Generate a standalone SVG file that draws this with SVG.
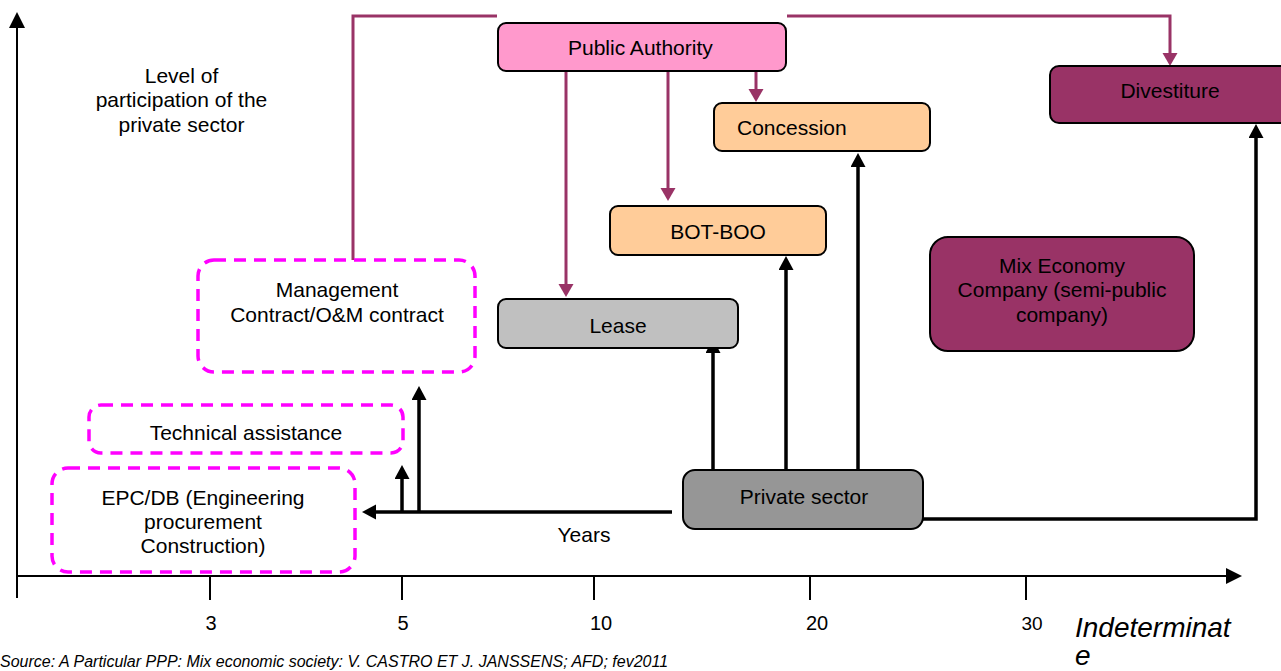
<svg xmlns="http://www.w3.org/2000/svg" width="1281" height="671" viewBox="0 0 1281 671">
  <style>
    text { font-family: "Liberation Sans", Arial, sans-serif; font-size: 21px; fill: #000; }
    .mid { text-anchor: middle; }
    .box { stroke: #000; stroke-width: 2; }
    .dash { fill: none; stroke: #FF00FF; stroke-width: 3.5; stroke-dasharray: 12 8; }
    .blk { fill: none; stroke: #000; stroke-width: 3.5; }
    .mag { fill: none; stroke: #993366; stroke-width: 3; }
    .axis { fill: none; stroke: #000; stroke-width: 2; }
    .tick { font-size: 20px; }
    .ital { font-style: italic; }
  </style>
  <defs>
    <marker id="ah-black" markerUnits="userSpaceOnUse" markerWidth="16" markerHeight="16" refX="2" refY="7.5" orient="auto">
      <path d="M0,0 L14,7.5 L0,15 Z" fill="#000"/>
    </marker>
    <marker id="ah-axis" markerUnits="userSpaceOnUse" markerWidth="18" markerHeight="18" refX="2" refY="8" orient="auto">
      <path d="M0,0 L16,8 L0,16 Z" fill="#000"/>
    </marker>
    <marker id="ah-mag" markerUnits="userSpaceOnUse" markerWidth="16" markerHeight="16" refX="2" refY="7.5" orient="auto">
      <path d="M0,0 L13,7.5 L0,15 Z" fill="#993366"/>
    </marker>
  </defs>

  <rect width="1281" height="671" fill="#fff"/>

  <!-- axes -->
  <g id="axes">
    <path class="axis" d="M17,598 V26" marker-end="url(#ah-axis)"/>
    <path class="axis" d="M17,576 H1228" marker-end="url(#ah-axis)"/>
    <path class="axis" d="M210,576 V600 M402,576 V600 M594,576 V600 M810,576 V600 M1026,576 V600"/>
    <text class="tick mid" x="211" y="630">3</text>
    <text class="tick mid" x="403" y="630">5</text>
    <text class="tick mid" x="601" y="630">10</text>
    <text class="tick mid" x="817" y="630">20</text>
    <text class="tick mid" x="1032" y="630" style="font-size:19px">30</text>
    <text class="ital" x="1075" y="637" style="font-size:28px">Indeterminat</text>
    <text class="ital" x="1075" y="665" style="font-size:28px">e</text>
    <text class="mid" x="181.5" y="83">Level of</text>
    <text class="mid" x="181.5" y="107">participation of the</text>
    <text class="mid" x="181.5" y="132">private sector</text>
    <text class="mid" x="584" y="542">Years</text>
    <text class="ital" x="0" y="667" style="font-size:16px">Source: A Particular PPP: Mix economic society: V. CASTRO ET J. JANSSENS; AFD; fev2011</text>
  </g>

  <!-- connectors -->
  <g id="connectors">
    <path class="mag" d="M353,260 V16 H497"/>
    <path class="mag" d="M787,16 H1170 V55" marker-end="url(#ah-mag)"/>
    <path class="mag" d="M566,57 V286" marker-end="url(#ah-mag)"/>
    <path class="mag" d="M668,57 V190" marker-end="url(#ah-mag)"/>
    <path class="mag" d="M756,57 V91" marker-end="url(#ah-mag)"/>

    <path class="blk" d="M713,470 V351" marker-end="url(#ah-black)"/>
    <path class="blk" d="M786,470 V268" marker-end="url(#ah-black)"/>
    <path class="blk" d="M858,470 V165" marker-end="url(#ah-black)"/>
    <path class="blk" d="M923,519 H1256 V136" marker-end="url(#ah-black)"/>
    <path class="blk" d="M672,512 H374" marker-end="url(#ah-black)"/>
    <path class="blk" d="M402,512 V477" marker-end="url(#ah-black)"/>
    <path class="blk" d="M419,512 V398" marker-end="url(#ah-black)"/>
  </g>

  <!-- nodes -->
  <g id="public-authority">
    <rect class="box" x="498" y="23" width="288" height="48" rx="8" fill="#FF99CC"/>
    <text x="568" y="55">Public Authority</text>
  </g>
  <g id="concession">
    <rect class="box" x="714" y="103" width="216" height="48" rx="8" fill="#FFCC99"/>
    <text x="737" y="135">Concession</text>
  </g>
  <g id="bot-boo">
    <rect class="box" x="610" y="206" width="216" height="49" rx="8" fill="#FFCC99"/>
    <text class="mid" x="718" y="239">BOT-BOO</text>
  </g>
  <g id="lease">
    <rect class="box" x="498" y="299" width="240" height="49" rx="8" fill="#C0C0C0"/>
    <text class="mid" x="618" y="333">Lease</text>
  </g>
  <g id="divestiture">
    <rect class="box" x="1050" y="66" width="245" height="57" rx="9" fill="#993366"/>
    <text class="mid" x="1170" y="98">Divestiture</text>
  </g>
  <g id="mix-economy">
    <rect class="box" x="930" y="237" width="264" height="114" rx="18" fill="#993366"/>
    <text class="mid" x="1062" y="273">Mix Economy</text>
    <text class="mid" x="1062" y="297">Company (semi-public</text>
    <text class="mid" x="1062" y="322">company)</text>
  </g>
  <g id="private-sector">
    <rect class="box" x="683" y="470" width="240" height="59" rx="12" fill="#969696"/>
    <text class="mid" x="804" y="504">Private sector</text>
  </g>
  <g id="management">
    <rect class="dash" x="198" y="260" width="277" height="112" rx="16"/>
    <text class="mid" x="337" y="297">Management</text>
    <text class="mid" x="337" y="322">Contract/O&amp;M contract</text>
  </g>
  <g id="technical-assistance">
    <rect class="dash" x="89" y="405" width="314" height="48" rx="12"/>
    <text class="mid" x="246" y="440">Technical assistance</text>
  </g>
  <g id="epc-db">
    <rect class="dash" x="52" y="468" width="303" height="104" rx="16"/>
    <text class="mid" x="203" y="505">EPC/DB (Engineering</text>
    <text class="mid" x="203" y="529">procurement</text>
    <text class="mid" x="203" y="553">Construction)</text>
  </g>
</svg>
